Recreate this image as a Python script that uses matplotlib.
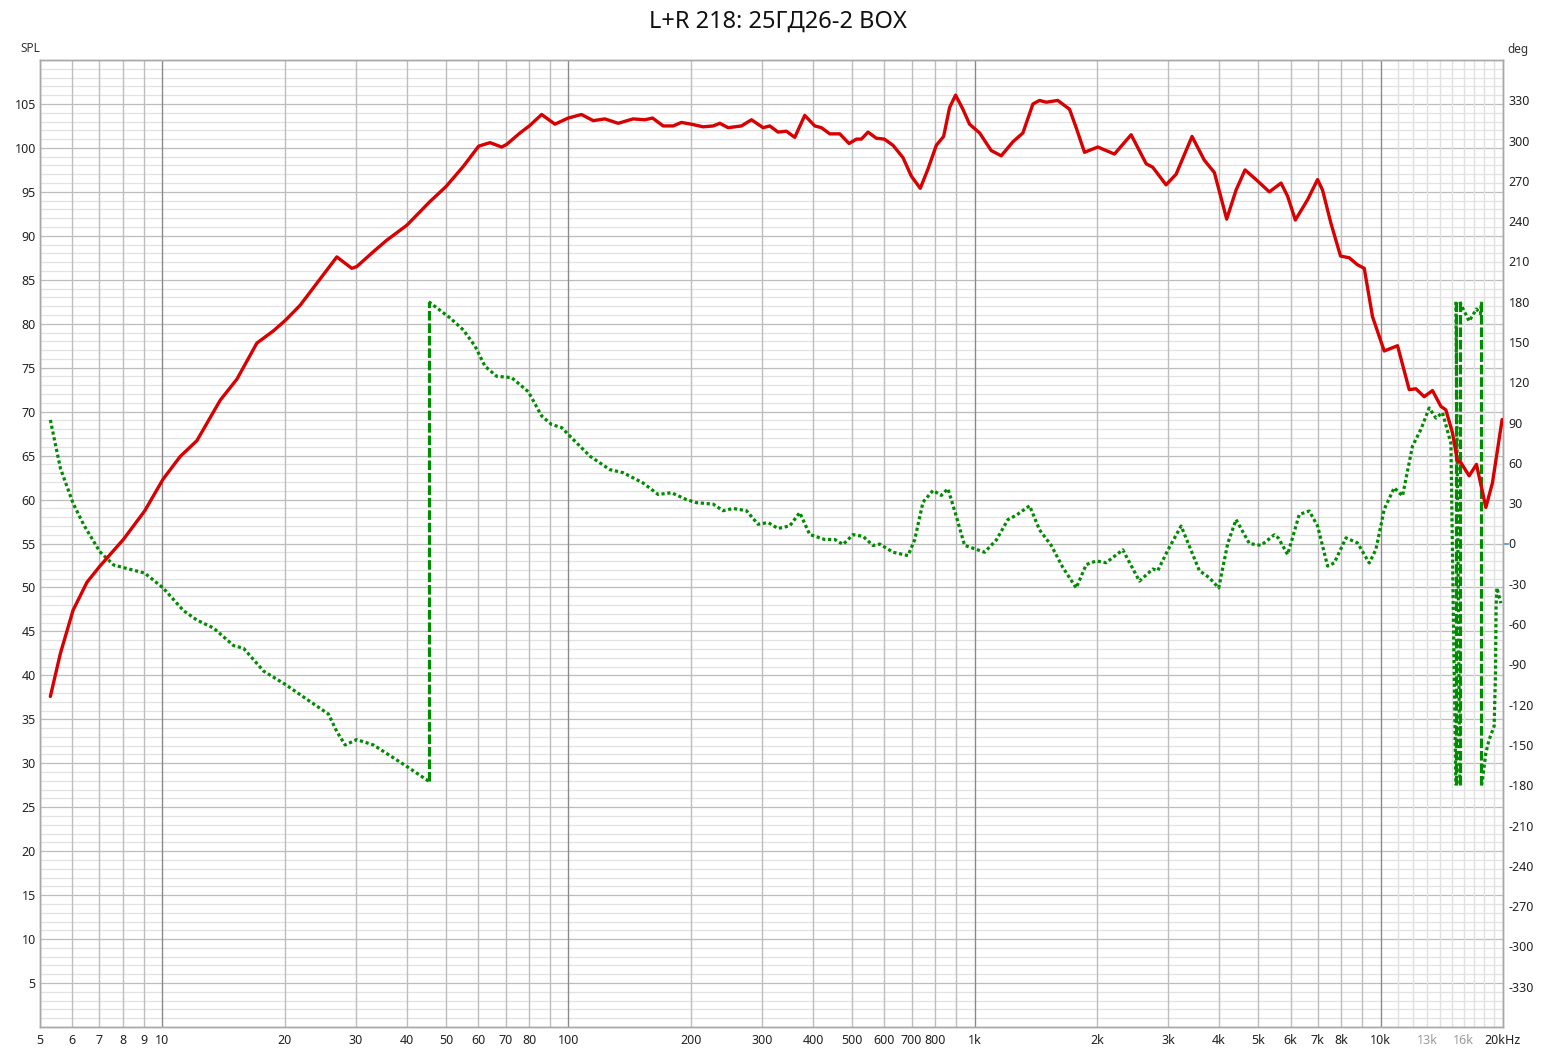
import matplotlib
matplotlib.use("Agg")
import matplotlib.pyplot as plt
import matplotlib.transforms as mtransforms
import numpy as np

plt.rcParams['font.family'] = ['Noto Sans', 'DejaVu Sans']
plt.rcParams['axes.unicode_minus'] = False

TITLE = "L+R 218: 25ГД26-2 BOX"

# ---- SPL (dB) ----
spl_freq = [5.302, 5.613, 6.03, 6.527, 7.014, 8.034, 9.049, 10.04, 11.07, 12.17, 13.89, 15.27,
            17.10, 18.79, 20.11, 21.85, 24.48, 26.90, 29.29, 30.12, 33.11, 35.70, 40.0,
            45.62, 49.95, 55.11, 60.12, 64.12, 68.49, 70.46, 75.99, 80.12, 85.91, 92.65, 99.9,
            107.7, 115.1, 122.9, 132.6, 144.3, 154.2, 161.1, 171.1, 181.1, 189.8, 200.6, 214.7,
            227.2, 235.9, 247.3, 266.7, 282.3, 301.5, 313.1, 328.2, 344.1, 360.8, 381.8, 404.1,
            419.6, 440.0, 465.6, 490.9, 511.7, 526.4, 546.7, 573.0, 599.5, 629.6, 666.3, 698.5,
            735, 767.8, 805, 839, 868, 898, 936, 972, 1029, 1099, 1163, 1243, 1315, 1392, 1445,
            1501, 1603, 1713, 1779, 1865, 2011, 2210, 2429, 2645, 2746, 2961, 3134, 3431, 3679,
            3894, 4176, 4403, 4634, 4932, 5318, 5683, 5899, 6162, 6604, 6990, 7191, 7543, 7963,
            8366, 8768, 9108, 9545, 10200, 11000, 11752, 12207, 12794, 13410, 14064, 14467,
            15017, 15449, 15752, 16508, 17207, 18147, 18840, 19900]
spl_vals = [37.6, 42.5, 47.4, 50.6, 52.4, 55.5, 58.7, 62.3, 64.9, 66.7, 71.3, 73.7,
            77.8, 79.2, 80.4, 82.1, 85.1, 87.6, 86.3, 86.5, 88.2, 89.5, 91.2,
            93.9, 95.6, 97.9, 100.2, 100.6, 100.1, 100.4, 101.7, 102.5, 103.8, 102.7, 103.4,
            103.8, 103.1, 103.3, 102.8, 103.3, 103.2, 103.4, 102.5, 102.5, 102.9, 102.7, 102.4,
            102.5, 102.8, 102.3, 102.5, 103.2, 102.3, 102.5, 101.8, 101.9, 101.2, 103.7, 102.5,
            102.3, 101.6, 101.6, 100.5, 101.0, 101.0, 101.8, 101.1, 101.0, 100.3, 98.9, 96.8,
            95.4, 97.6, 100.3, 101.3, 104.6, 106.0, 104.4, 102.7, 101.7, 99.7, 99.1, 100.7, 101.7, 105.0, 105.4,
            105.2, 105.4, 104.4, 102.3, 99.5, 100.1, 99.3, 101.5, 98.2, 97.8, 95.8, 97.0, 101.3, 98.6,
            97.2, 91.9, 95.2, 97.5, 96.4, 95.0, 96.0, 94.5, 91.8, 94.1, 96.4, 95.2, 91.4, 87.7,
            87.5, 86.7, 86.3, 80.8, 76.9, 77.5, 72.5, 72.6, 71.7, 72.4, 70.6, 70.2,
            67.6, 64.4, 64.2, 62.7, 64.0, 59.1, 61.9, 69.1]

# ---- Phase (deg); repeated frequency = wrap jump ----
ph_freq = [5.302, 5.613, 6.03, 6.405, 7.014, 7.592, 8.034, 9.049, 10.04, 11.28, 12.17, 13.38,
           14.98, 15.85, 17.76, 20.11, 22.70, 25.66, 26.90, 28.20, 30.12, 33.11, 36.38, 40.0,
           45.3, 45.3, 51.10, 55.11, 58.88, 62.31, 66.57, 72.47, 79.66, 85.91, 90.91, 96.21,
           104.7, 113.0, 126.5, 136.4, 152.8, 166.3, 179.4, 195.3, 206.7, 227.2, 240.4, 254.3,
           274.4, 293.1, 310.2, 328.2, 350.7, 371.1, 392.8, 427.6, 452.5, 474.5, 502.0, 531.4,
           562.3, 583.9, 629.6, 685.5, 711.9, 746.4, 790, 827.9, 859.8, 901.4, 945, 1000, 1058,
           1131, 1208, 1266, 1366, 1445, 1544, 1649, 1779, 1883, 1992, 2108, 2317, 2546, 2746,
           2825, 2990, 3225, 3576, 3785, 3991, 4200, 4403, 4749, 5072, 5471, 5600, 5899, 6302,
           6668, 6990, 7398, 7686, 8212, 8768, 9370, 9731, 10200, 10794, 11314, 11973, 12557,
           13162, 13672, 14191, 14883, 15311, 15311, 15661, 15661, 15752, 16508, 17207, 17600,
           17701, 17701, 17800, 18147, 18490, 19020, 19170, 19230, 19320, 19760]
ph_vals = [92, 56, 30, 14, -6, -16, -18, -22, -33, -50, -57, -63,
           -76, -78, -95, -105, -116, -127, -140, -150, -146, -150, -158, -166,
           -177, 180, 168, 159, 147, 132, 124.5, 123.5, 113, 95, 88.6, 86.3,
           75, 65, 55, 52.7, 45, 36.5, 37.8, 32.7, 30.4, 29.3, 24.4, 26.1,
           24.4, 14.3, 15.6, 11.2, 13.1, 23, 6.7, 3, 3, -0.7, 6.6, 5.3,
           -1.5, -0.4, -6.5, -9, 2.6, 30.8, 39.5, 35.8, 40.8, 20.3, -1.4, -3.9, -6.5,
           2.6, 17.8, 21, 28.1, 10.2, -1.4, -17.8, -33.1, -15.7, -13, -14.3, -4.7, -28, -19,
           -20.2, -5, 13, -20.2, -25.5, -33.1, 0, 17.8, 0, -1.4, 6.5, 4, -8.2, 21.6,
           24.2, 13.1, -16.8, -14.4, 4.2, 0.4, -14.5, -4.4, 25.5, 41.5, 35.4, 72.5, 85,
           100.9, 93.4, 97.5, 74.7, -180, 180, -180, 180, 178, 165.5, 174.6, 171,
           180, -180, -176, -156, -146, -136, -96, -47, -33, -44.5]

xtick_vals = [5, 6, 7, 8, 9, 10, 20, 30, 40, 50, 60, 70, 80, 100, 200, 300, 400, 500, 600, 700,
              800, 1000, 2000, 3000, 4000, 5000, 6000, 7000, 8000, 10000, 13000, 16000, 20000]
xtick_labels = ["5", "6", "7", "8", "9", "10", "20", "30", "40", "50", "60", "70", "80", "100",
                "200", "300", "400", "500", "600", "700", "800", "1k", "2k", "3k", "4k", "5k",
                "6k", "7k", "8k", "10k", "13k", "16k", "20kHz"]
grey_xlabels = ["13k", "16k"]
spl_ticks = list(range(5, 110, 5))
deg_ticks = list(range(-330, 331, 30))

RED = "#d80000"
GREEN = "#008c00"

fig = plt.figure(figsize=(15.55, 10.53), dpi=100)
fig.patch.set_facecolor("white")
ax = fig.add_axes([40 / 1555, 26 / 1053, 1463 / 1555, 967 / 1053])
ax2 = ax.twinx()
ax.set_zorder(2)
ax2.set_zorder(1)
ax.patch.set_visible(False)
ax2.patch.set_visible(False)

ax.set_xscale("log")
ax.set_xlim(5, 20000)
ax.set_ylim(0, 110)
ax2.set_ylim(-360, 360)

# grid drawn on lower axes (phase scale) so curves sit above it
def spl_to_deg(v):
    return (v - 55) * 720.0 / 110.0

for v in range(1, 110):
    c = "#bdbdbd" if v % 5 == 0 else "#e2e2e2"
    ax2.axhline(spl_to_deg(v), color=c, lw=0.9, zorder=0)
for dec in [1, 10, 100, 1000]:
    for m in range(2 if dec > 1 else 5, 10):
        ax2.axvline(m * dec, color="#bdbdbd", lw=1.0, zorder=0.5)
for d in [10, 100, 1000, 10000]:
    ax2.axvline(d, color="#8a8a8a", lw=1.0, zorder=0.6)
for k in range(11, 20):
    ax2.axvline(k * 1000, color="#e0e0e0", lw=1.0, zorder=0.4)
ax2.axvline(20000, color="#bdbdbd", lw=1.0, zorder=0.5)

# phase: dotted, wraps dashed
pf = np.array(ph_freq, dtype=float)
pv = np.array(ph_vals, dtype=float)
dot_x, dot_y = [], []
for i in range(len(pf) - 1):
    if pf[i] == pf[i + 1]:
        ax2.plot([pf[i], pf[i + 1]], [pv[i], pv[i + 1]], color=GREEN, lw=2.3,
                 ls=(0, (3.0, 0.9)), zorder=3, solid_capstyle="butt")
        dot_x += [np.nan]
        dot_y += [np.nan]
    else:
        if not dot_x or np.isnan(dot_x[-1]):
            dot_x.append(pf[i]); dot_y.append(pv[i])
        dot_x.append(pf[i + 1]); dot_y.append(pv[i + 1])
ax2.plot(dot_x, dot_y, color=GREEN, lw=2.3, ls=(0, (1.0, 0.85)), zorder=2,
         dash_capstyle="butt")

# SPL
ax.plot(spl_freq, spl_vals, color=RED, lw=2.4, zorder=4, solid_joinstyle="round",
        solid_capstyle="round")

# ticks
ax.set_xticks(xtick_vals)
ax.set_xticklabels(xtick_labels)
ax.xaxis.set_minor_locator(matplotlib.ticker.NullLocator())
ax.set_yticks(spl_ticks)
ax.set_yticklabels([str(t) for t in spl_ticks])
ax2.set_yticks(deg_ticks)
ax2.set_yticklabels([str(t) for t in deg_ticks])
ax.tick_params(axis="both", length=0, labelsize=9, labelcolor="#222222")
ax.tick_params(axis="x", pad=5)
ax.tick_params(axis="y", pad=3)
ax2.tick_params(axis="y", length=0, labelsize=9, labelcolor="#222222", pad=4)
for lbl in ax.get_xticklabels():
    if lbl.get_text() in grey_xlabels:
        lbl.set_color("#9a9a9a")

for a in (ax, ax2):
    for s in a.spines.values():
        s.set_color("#a8a8a8")
        s.set_linewidth(1.0)

# small blue marker at 0 deg on the right axis
trans = mtransforms.blended_transform_factory(ax2.transAxes, ax2.transData)
ax2.plot([1.0005, 1.0035], [0, 0], color="#4a8fe0", lw=1.2, transform=trans, clip_on=False)

fig.text(0.5, 1 - 22 / 1053, TITLE, ha="center", va="center", fontsize=17, color="#111111")
fig.text(20 / 1555, 1 - 49 / 1053, "SPL", ha="left", va="center", fontsize=8.5,
         color="#333333", fontweight="semibold")
fig.text(1507 / 1555, 1 - 49 / 1053, "deg", ha="left", va="center", fontsize=8.5,
         color="#333333", fontweight="semibold")

fig.savefig("out.png", dpi=100, facecolor="white")
